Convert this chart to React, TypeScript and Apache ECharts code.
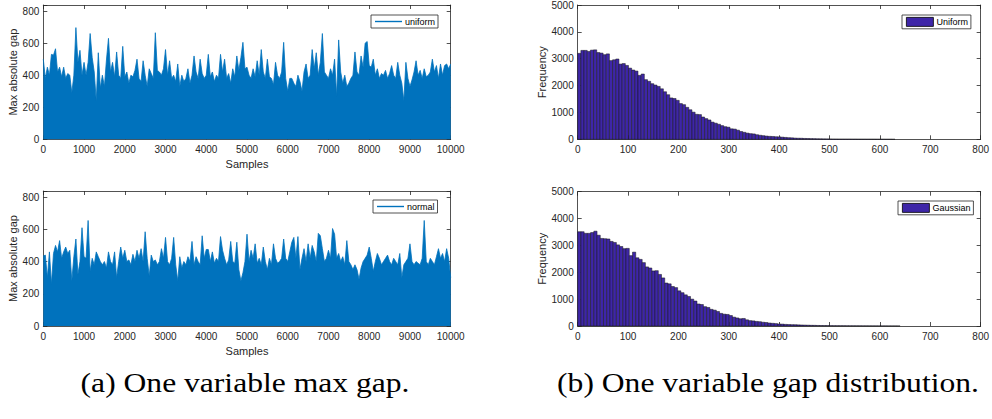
import React, { useEffect, useRef } from 'react';
import * as echarts from 'echarts';

// ---------- data ----------
const SAMPLE_STEP = 50; // samples between successive readings
const UNIFORM_GAP = [
  500, 380, 450, 400, 530, 525, 565, 420, 450, 390, 450, 380, 410, 400, 290, 400, 697, 480, 555, 400,
  480, 400, 480, 660, 510, 420, 240, 540, 320, 400, 330, 495, 630, 420, 480, 390, 545, 400, 380, 580,
  390, 420, 350, 400, 390, 430, 500, 380, 360, 490, 400, 330, 440, 410, 380, 665, 430, 420, 400, 440,
  560, 400, 490, 380, 400, 360, 470, 330, 400, 360, 380, 440, 350, 400, 520, 420, 380, 500, 410, 380,
  400, 530, 390, 420, 360, 400, 380, 530, 420, 500, 380, 410, 350, 440, 390, 520, 430, 510, 605, 440,
  450, 400, 380, 440, 390, 490, 400, 560, 420, 380, 500, 390, 380, 340, 480, 400, 380, 420, 605, 380,
  300, 380, 380, 350, 330, 400, 360, 300, 420, 470, 380, 400, 560, 440, 540, 400, 480, 660, 420, 400,
  380, 440, 400, 500, 270, 620, 420, 350, 400, 330, 350, 380, 400, 545, 420, 400, 520, 450, 600, 610,
  460, 450, 500, 400, 440, 380, 410, 400, 430, 380, 410, 460, 400, 380, 480, 400, 350, 240, 480, 380,
  330, 370, 420, 490, 400, 430, 380, 440, 390, 400, 420, 500, 420, 460, 380, 470, 400, 460, 470, 440,
  470,
];
const NORMAL_GAP = [
  435, 440, 300, 460, 260, 450, 500, 460, 530, 420, 460, 490, 450, 470, 280, 430, 540, 320, 400, 610,
  430, 420, 655, 340, 420, 380, 460, 430, 400, 380, 400, 360, 460, 400, 380, 460, 300, 400, 490, 420,
  470, 400, 410, 380, 445, 400, 470, 420, 480, 400, 585, 420, 310, 440, 400, 410, 380, 400, 480, 420,
  550, 400, 380, 420, 550, 380, 280, 430, 360, 400, 380, 430, 400, 525, 380, 430, 400, 380, 560, 420,
  475, 475, 400, 460, 390, 420, 400, 555, 470, 420, 380, 410, 525, 400, 390, 520, 350, 280, 330, 400,
  570, 400, 470, 420, 510, 390, 420, 380, 490, 400, 350, 420, 380, 510, 420, 390, 400, 420, 540, 420,
  400, 460, 520, 550, 420, 555, 350, 420, 480, 400, 510, 420, 500, 460, 400, 575, 560, 480, 400, 420,
  470, 420, 605, 570, 420, 450, 400, 430, 380, 530, 400, 380, 350, 380, 350, 290, 360, 400, 420, 440,
  490, 420, 340, 400, 450, 420, 380, 400, 420, 440, 400, 380, 420, 400, 380, 450, 300, 380, 400, 420,
  510, 400, 380, 400, 390, 380, 420, 655, 400, 380, 420, 400, 380, 430, 480, 420, 450, 400, 480, 420,
  300,
];

const UNIFORM_BIN = 6.3;
const UNIFORM_HIST = [
  3200, 3310, 3310, 3270, 3320, 3330, 3230, 3210, 3150, 3180,
  2930, 2960, 2990, 2800, 2820, 2750, 2650, 2580, 2540, 2380,
  2430, 2220, 2160, 2070, 2020, 1970, 1880, 1770, 1660, 1540,
  1520, 1450, 1330, 1290, 1190, 1100, 1010, 930, 920, 830,
  770, 720, 640, 600, 560, 510, 470, 450, 390, 380,
  340, 290, 260, 230, 210, 200, 170, 150, 135, 120,
  110, 105, 95, 90, 80, 70, 60, 55, 45, 40,
  38, 32, 30, 26, 24, 20, 18, 16, 15, 13,
  12, 11, 10, 10, 9, 9, 8, 8, 7, 7,
  7, 6, 6, 6, 5, 5, 5, 4, 4, 3,
];
const GAUSS_BIN = 6.4;
const GAUSS_HIST = [
  3510, 3510, 3450, 3450, 3480, 3530, 3380, 3260, 3250, 3240,
  3150, 3110, 3020, 2960, 2880, 2890, 2620, 2750, 2540, 2480,
  2360, 2200, 2160, 2050, 2060, 1920, 1790, 1600, 1570, 1470,
  1430, 1310, 1240, 1160, 1100, 1000, 930, 820, 800, 720,
  690, 620, 590, 540, 470, 440, 430, 390, 330, 300,
  270, 280, 230, 200, 190, 170, 160, 140, 130, 110,
  100, 90, 75, 70, 60, 55, 50, 48, 42, 38,
  34, 30, 26, 24, 20, 18, 16, 15, 13, 12,
  11, 10, 10, 9, 8, 8, 7, 7, 6, 6,
  5, 5, 5, 4, 4, 4, 3, 3, 3, 2,
];

const LEFT_SERIES_NAMES = ['uniform', 'normal'];
const RIGHT_SERIES_NAMES = ['Uniform', 'Gaussian'];
const CAPTIONS = ['(a) One variable max gap.', '(b) One variable gap distribution.'];

// ---------- styles ----------
const FONT = '"Liberation Sans", Arial, Helvetica, sans-serif';
const SERIF = '"Liberation Serif", "DejaVu Serif", serif';
const AXIS_COLOR = '#262626';
const LINE_COLOR = '#0072BD';
const BAR_COLOR = '#3E26A8';

const toLinePoints = (vals: number[]) => vals.map((v, i) => [i * SAMPLE_STEP, v]);
const toBins = (vals: number[], w: number) => vals.map((v, i) => [i * w, (i + 1) * w, v]);

const GRIDS = [
  { left: 43.3, top: 5, width: 407.4, height: 134.3 },
  { left: 43.3, top: 191, width: 407.4, height: 135 },
  { left: 577.7, top: 5, width: 406.6, height: 134.3 },
  { left: 577.7, top: 191.7, width: 406.6, height: 134.3 },
];

function xAxes(grid: number, max: number, interval: number, name: string) {
  const common = {
    type: 'value',
    gridIndex: grid,
    min: 0,
    max,
    interval,
    splitLine: { show: false },
    axisLine: { show: true, onZero: false, lineStyle: { color: AXIS_COLOR, width: 0.8 } },
    axisTick: { show: true, inside: true, length: 4, lineStyle: { color: AXIS_COLOR, width: 0.8 } },
  };
  return [
    {
      ...common,
      position: 'bottom',
      name,
      nameLocation: 'middle',
      nameGap: 19,
      nameTextStyle: { fontSize: 11, color: AXIS_COLOR, fontFamily: FONT },
      axisLabel: {
        show: true,
        margin: 5,
        fontSize: 10,
        color: AXIS_COLOR,
        fontFamily: FONT,
        formatter: (v: number) => String(v),
      },
    },
    { ...common, position: 'top', axisLabel: { show: false } },
  ];
}

function yAxes(grid: number, max: number, interval: number, name: string, nameGap: number) {
  const common = {
    type: 'value',
    gridIndex: grid,
    min: 0,
    max,
    interval,
    splitLine: { show: false },
    axisLine: { show: true, onZero: false, lineStyle: { color: AXIS_COLOR, width: 0.8 } },
    axisTick: { show: true, inside: true, length: 4, lineStyle: { color: AXIS_COLOR, width: 0.8 } },
  };
  return [
    {
      ...common,
      position: 'left',
      name,
      nameLocation: 'middle',
      nameGap,
      nameTextStyle: { fontSize: 11, color: AXIS_COLOR, fontFamily: FONT },
      axisLabel: {
        show: true,
        margin: 4,
        fontSize: 10,
        color: AXIS_COLOR,
        fontFamily: FONT,
        formatter: (v: number) => (v % interval === 0 ? String(v) : ''),
      },
    },
    { ...common, position: 'right', axisLabel: { show: false } },
  ];
}

function legend(name: string, left: number, top: number, isBar: boolean) {
  return {
    data: [{ name, icon: 'rect' }],
    left,
    top,
    orient: 'horizontal',
    padding: [2, 3, 2, 4],
    itemWidth: 27,
    itemHeight: isBar ? 9 : 1.4,
    itemGap: 0,
    borderColor: AXIS_COLOR,
    borderWidth: 0.8,
    borderRadius: 0,
    backgroundColor: '#fff',
    selectedMode: false,
    itemStyle: isBar
      ? { color: BAR_COLOR, borderColor: '#000', borderWidth: 0.8 }
      : { color: LINE_COLOR, borderWidth: 0 },
    lineStyle: { width: 0 },
    textStyle: { fontSize: 9, color: '#000', fontFamily: FONT, padding: [0, 0, 0, -2] },
  };
}

function histRender(params: any, api: any) {
  const p0 = api.coord([api.value(0), api.value(2)]);
  const p1 = api.coord([api.value(1), 0]);
  return {
    type: 'rect',
    shape: { x: p0[0], y: p0[1], width: p1[0] - p0[0], height: p1[1] - p0[1] },
    style: { fill: BAR_COLOR, stroke: '#161616', lineWidth: 0.5 },
  };
}

function lineSeries(name: string, vals: number[], axis: number) {
  return {
    type: 'line',
    name,
    xAxisIndex: axis,
    yAxisIndex: axis,
    data: toLinePoints(vals),
    symbol: 'none',
    showSymbol: false,
    color: LINE_COLOR,
    lineStyle: { color: LINE_COLOR, width: 0.8 },
    areaStyle: { color: LINE_COLOR, opacity: 1, origin: 'start' },
    silent: true,
  };
}

function histSeries(name: string, vals: number[], w: number, axis: number) {
  return {
    type: 'custom',
    name,
    xAxisIndex: axis,
    yAxisIndex: axis,
    data: toBins(vals, w),
    encode: { x: [0, 1], y: 2 },
    renderItem: histRender,
    itemStyle: { color: BAR_COLOR },
    silent: true,
  };
}

function caption(text: string, x: number) {
  return {
    type: 'text',
    x,
    y: 383,
    scaleX: 1.17,
    style: {
      text,
      fontSize: 27,
      fontFamily: SERIF,
      fill: '#000',
      align: 'center',
      verticalAlign: 'middle',
      textAlign: 'center',
      textVerticalAlign: 'middle',
    },
  };
}

export default function App() {
  const ref = useRef<HTMLDivElement>(null);
  useEffect(() => {
    if (!ref.current) return;
    const chart = echarts.init(ref.current, null, { renderer: 'svg' });
    const option: any = {
      animation: false,
      backgroundColor: '#fff',
      grid: GRIDS,
      xAxis: [
        ...xAxes(0, 10000, 1000, 'Samples'),
        ...xAxes(1, 10000, 1000, 'Samples'),
        ...xAxes(2, 800, 100, ''),
        ...xAxes(3, 800, 100, ''),
      ],
      yAxis: [
        ...yAxes(0, 838, 200, 'Max absolute gap', 25),
        ...yAxes(1, 838, 200, 'Max absolute gap', 25),
        ...yAxes(2, 5000, 1000, 'Frequency', 30),
        ...yAxes(3, 5000, 1000, 'Frequency', 30),
      ],
      legend: [
        legend(LEFT_SERIES_NAMES[0], 371, 15, false),
        legend(LEFT_SERIES_NAMES[1], 373, 200, false),
        legend(RIGHT_SERIES_NAMES[0], 902, 15, true),
        legend(RIGHT_SERIES_NAMES[1], 898, 201, true),
      ],
      series: [
        lineSeries(LEFT_SERIES_NAMES[0], UNIFORM_GAP, 0),
        lineSeries(LEFT_SERIES_NAMES[1], NORMAL_GAP, 2),
        histSeries(RIGHT_SERIES_NAMES[0], UNIFORM_HIST, UNIFORM_BIN, 4),
        histSeries(RIGHT_SERIES_NAMES[1], GAUSS_HIST, GAUSS_BIN, 6),
      ],
      graphic: [caption(CAPTIONS[0], 245), caption(CAPTIONS[1], 768)],
    };
    chart.setOption(option);
    return () => chart.dispose();
  }, []);
  return (
    <div
      ref={ref}
      style={{ position: 'absolute', left: 0, top: 0, width: 992, height: 419, background: '#fff' }}
    />
  );
}
